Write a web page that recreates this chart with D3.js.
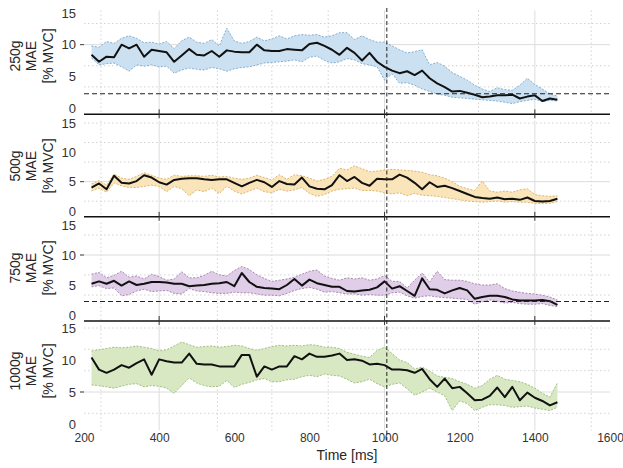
<!DOCTYPE html>
<html>
<head>
<meta charset="utf-8">
<script src="https://cdn.jsdelivr.net/npm/d3@7"></script>
<style>
  body { margin: 0; background: #fff; }
  text { font-family: "Liberation Sans", Arial, sans-serif; fill: #262626; }
</style>
</head>
<body>
<div id="chart"></div>
<script>

/* DATA */

var timeMs = [220,240,260,280,300,320,340,360,380,400,420,440,460,480,500,520,540,560,580,600,
  620,640,660,680,700,720,740,760,780,800,820,840,860,880,900,920,940,960,980,1000,
  1020,1040,1060,1080,1100,1120,1140,1160,1180,1200,1220,1240,1260,1280,1300,1320,1340,1360,1380,1400,
  1420,1440,1460];

var weights = ["250g", "500g", "750g", "1000g"];

var mean250 = [8.4,7.3,8.1,8.0,10.0,9.4,10.0,8.1,9.2,9.0, 8.8,7.3,8.3,9.3,8.4,8.3,9.0,8.1,9.1,8.9,
  8.8,8.8,10.0,9.1,9.0,9.0,9.3,9.2,9.1,10.1, 10.3,9.8,9.2,8.4,9.5,8.7,7.5,8.7,7.3,6.5,
  5.9,5.5,5.8,5.2,5.9,4.7,3.9,3.3,2.6,2.7, 2.4,2.1,1.7,1.8,2.0,2.0,2.1,1.5,1.8,2.0, 1.1,1.5,1.3];
var low250 = [7.9,6.8,7.0,7.1,6.5,5.8,6.8,6.6,6.8,6.5, 6.6,5.5,6.0,6.3,6.1,6.0,6.4,6.2,5.8,6.2,
  6.4,6.5,6.8,7.1,7.2,7.3,7.4,7.6,7.3,8.0, 8.2,7.5,7.1,7.3,7.8,7.6,7.0,6.8,6.5,4.4,
  5.4,3.9,4.0,3.6,3.0,2.6,2.2,2.0,1.7,1.6, 1.5,1.4,1.3,1.2,1.1,0.9,0.7,1.0,1.2,1.4, 1.0,1.2,1.1];
var high250 = [9.8,9.6,10.5,10.2,11.0,11.4,11.0,10.3,10.4,10.1, 10.5,9.4,10.6,11.2,10.4,10.2,10.8,9.8,12.6,10.6,
  10.2,10.5,11.2,10.6,10.9,11.4,10.9,11.4,11.6,11.5, 11.6,11.2,11.4,11.9,11.9,10.8,11.4,10.8,10.4,10.4,
  9.8,9.2,8.7,8.9,9.2,6.8,7.2,6.6,5.6,5.0, 4.4,3.6,3.0,2.6,3.2,2.9,2.8,3.6,4.7,3.7, 3.0,2.2,1.9];

var mean500 = [4.0,4.7,3.7,6.0,4.8,4.7,5.1,6.1,5.7,4.9, 4.5,5.3,5.5,5.6,5.6,5.4,5.3,5.4,5.4,4.8,
  4.2,4.8,5.3,4.9,4.1,5.1,4.6,4.5,5.7,4.2, 3.8,3.7,4.4,6.1,5.1,5.8,4.8,4.3,5.5,5.4,
  5.4,6.2,5.7,4.8,3.7,4.9,4.1,4.3,3.9,3.4, 2.9,2.4,2.2,2.1,2.3,2.0,2.1,1.9,2.3,1.7, 1.6,1.7,2.1];
var low500 = [3.4,3.9,3.2,4.8,4.3,4.0,4.0,4.2,4.4,4.2, 3.3,4.2,3.8,2.6,3.6,3.3,3.9,3.0,4.2,3.4,
  2.9,3.4,3.9,3.3,3.1,3.7,3.4,3.6,4.0,3.0, 2.5,2.8,3.4,3.7,3.8,3.9,3.5,3.5,3.4,3.1,
  2.9,3.1,2.6,3.0,2.7,2.6,2.5,2.3,2.1,1.9, 1.7,1.6,1.5,1.6,1.7,1.5,1.6,1.5,1.5,1.3, 1.3,1.3,1.6];
var high500 = [4.6,5.2,4.4,6.3,5.6,5.4,5.9,6.5,6.1,5.6, 5.4,6.1,5.9,6.0,6.0,5.9,6.1,5.8,5.9,5.6,
  5.4,5.6,6.1,5.7,5.3,6.2,5.4,6.2,6.0,5.6, 5.1,5.4,5.9,7.3,7.0,7.7,7.2,6.7,6.8,7.0,
  7.1,7.0,6.9,6.8,6.6,6.2,6.0,5.6,5.0,4.2, 3.8,3.5,5.1,3.4,3.2,3.4,3.2,3.6,3.8,2.8, 2.6,2.5,2.6];

var mean750 = [5.2,5.6,5.2,5.7,4.9,5.6,5.0,5.2,5.5,5.5, 5.4,5.2,5.2,4.8,4.9,5.0,5.2,5.3,5.5,4.8,
  7.0,5.5,4.7,4.5,4.4,4.3,5.0,6.0,4.9,5.9, 5.3,5.0,4.7,4.7,4.0,3.9,4.1,4.2,4.6,5.6,
  4.4,4.8,4.0,3.2,6.1,4.3,4.2,3.6,4.1,4.5, 4.1,2.7,3.0,3.2,3.2,3.0,2.6,2.4,2.4,2.4, 2.5,2.3,1.7];
var low750 = [4.7,4.9,4.4,4.5,3.2,3.4,4.0,4.3,3.9,4.0, 4.1,3.6,3.5,4.4,4.0,3.9,3.7,3.6,3.6,3.8,
  3.7,3.7,3.5,3.3,3.3,3.2,3.6,4.1,4.4,4.6, 4.3,3.8,3.9,3.7,3.5,3.5,3.3,3.4,3.3,3.3,
  3.7,3.8,3.2,2.8,3.1,3.2,3.0,2.9,2.8,2.7, 2.6,1.8,2.2,2.5,2.3,2.0,2.1,1.9,1.8,1.8, 1.9,1.6,1.4];
var high750 = [6.8,7.1,6.2,6.6,7.3,6.3,6.5,6.0,6.8,6.4, 5.8,6.0,7.2,6.2,6.2,6.6,7.3,6.7,6.5,7.4,
  8.1,7.6,6.7,6.1,5.6,5.8,6.0,6.3,6.8,7.3, 7.5,6.5,6.1,5.8,6.2,6.0,6.2,5.8,6.0,6.6,
  5.6,5.6,4.5,5.8,7.0,5.5,7.3,5.9,5.8,5.8, 5.6,5.2,5.0,5.0,5.2,4.4,4.0,3.8,3.6,3.5, 3.3,3.0,2.5];

var mean1000 = [10.4,8.5,8.0,8.5,9.2,8.8,9.5,10.1,7.7,10.1, 9.8,9.6,9.6,11.0,9.4,9.3,9.3,9.0,9.0,9.0,
  10.8,10.8,7.4,9.0,8.5,9.0,9.0,10.6,10.1,11.0, 10.5,10.5,10.7,11.0,10.0,10.1,9.9,9.3,9.4,9.2,
  8.5,8.5,8.4,8.0,8.6,7.0,5.8,7.1,5.6,5.8, 4.8,3.7,3.8,4.4,5.7,4.2,5.8,3.7,4.9,4.1, 3.6,2.9,3.4];
var low1000 = [6.1,6.0,5.8,5.6,5.9,6.2,6.3,5.8,6.0,5.9, 5.6,4.8,6.0,7.2,6.4,6.0,5.8,5.9,6.8,5.7,
  6.2,6.5,6.9,7.1,6.6,6.6,6.9,7.0,7.4,7.6, 7.4,7.8,7.6,7.5,7.0,6.4,6.6,7.0,6.3,5.8,
  6.2,6.4,5.5,4.5,5.0,5.6,5.0,4.4,2.1,3.6, 3.2,2.1,2.6,3.0,3.0,2.9,2.6,2.7,2.8,2.5, 2.3,2.1,2.6];
var high1000 = [11.4,11.6,11.8,12.0,11.9,12.0,12.2,12.0,11.8,11.4, 11.6,12.2,12.8,12.4,12.0,12.1,12.2,12.0,12.1,12.3,
  12.2,11.8,11.5,11.8,12.1,12.3,12.2,12.3,12.2,12.4, 12.3,12.0,12.0,11.8,11.2,10.9,10.6,10.4,11.5,12.0,
  11.0,10.0,9.6,8.6,8.9,8.3,7.5,7.3,7.1,6.6, 6.2,5.6,6.0,7.0,7.6,7.0,6.8,6.6,6.2,5.6, 4.8,4.2,6.4];

var yTicks = [0, 5, 10, 15];
var xTicks = [200, 400, 600, 800, 1000, 1200, 1400, 1600];
var majorY = [10, 5, 10, 5];
var dottedY = [[3.33, 6.67, 13.33], [1.67, 8.33, 11.67, 15], [3.33, 6.67, 13.33], [1.67, 8.33, 11.67, 15]];
var thresholds = [2.25, null, 2.25, null];
var solidX = [400, 1000, 1400];
var dottedX = [245, 555, 700, 850, 1250, 1550];
var axisTickX = [400, 1000, 1400];
var onsetMs = 1006;

var means = [mean250, mean500, mean750, mean1000];
var lows = [low250, low500, low750, low1000];
var highs = [high250, high500, high750, high1000];

var fills = ["#cbe1f1", "#fae5bb", "#e0cde7", "#d8e8c2"];
var edges = ["#6f9cc4", "#d2a653", "#94729f", "#8fb06a"];

/* CHART */

function drawChart(){

  var w = 623;
  var h = 468;
  var panelTop = [13, 123, 225, 328];    // pixel row of value 15
  var panelZero = [108, 211, 315, 424];  // pixel row of value 0

  var svg = d3.select("#chart").append("svg")
              .attr("width", w)
              .attr("height", h);

  var x = d3.scaleLinear().domain([200, 1600]).range([84, 610]);

  weights.forEach(function(wt, i){

    var y = d3.scaleLinear().domain([0, 15]).range([panelZero[i], panelTop[i]]);
    var g = svg.append("g");
    var yTop = y(15.4), yBot = y(-1);

    // grid
    g.selectAll(".gdy").data(dottedY[i]).enter().append("line")
     .attr("x1", 84).attr("x2", 610)
     .attr("y1", function(d){ return y(d); }).attr("y2", function(d){ return y(d); })
     .style("stroke", "#d2d2d2").style("stroke-dasharray", "1.5,2.5");
    g.selectAll(".gdx").data(dottedX).enter().append("line")
     .attr("x1", function(d){ return x(d); }).attr("x2", function(d){ return x(d); })
     .attr("y1", yTop).attr("y2", yBot)
     .style("stroke", "#d2d2d2").style("stroke-dasharray", "1.5,2.5");
    g.selectAll(".gsx").data(solidX).enter().append("line")
     .attr("x1", function(d){ return x(d); }).attr("x2", function(d){ return x(d); })
     .attr("y1", yTop).attr("y2", yBot)
     .style("stroke", "#dcdcdc");
    g.append("line")
     .attr("x1", 80).attr("x2", 610)
     .attr("y1", y(majorY[i])).attr("y2", y(majorY[i]))
     .style("stroke", "#dcdcdc");
    g.append("line")
     .attr("x1", 80).attr("x2", 84)
     .attr("y1", y(majorY[i])).attr("y2", y(majorY[i]))
     .style("stroke", "#444");

    var rows = timeMs.map(function(t, k){
      return {t: t, m: means[i][k], lo: lows[i][k], hi: highs[i][k]};
    });

    var area = d3.area()
                 .x(function(d){ return x(d.t); })
                 .y0(function(d){ return y(d.lo); })
                 .y1(function(d){ return y(d.hi); });

    g.append("path").datum(rows)
     .attr("d", area)
     .style("fill", fills[i]);

    ["lo", "hi"].forEach(function(key){
      g.append("path").datum(rows)
       .attr("d", d3.line().x(function(d){ return x(d.t); }).y(function(d){ return y(d[key]); }))
       .style("fill", "none")
       .style("stroke", edges[i])
       .style("stroke-width", 0.8)
       .style("stroke-dasharray", "2,1.5");
    });

    g.append("path").datum(rows)
     .attr("d", d3.line().x(function(d){ return x(d.t); }).y(function(d){ return y(d.m); }))
     .style("fill", "none")
     .style("stroke", "#111")
     .style("stroke-width", 2)
     .style("stroke-linejoin", "round");

    if (thresholds[i] !== null) {
      g.append("line")
       .attr("x1", 84).attr("x2", 610)
       .attr("y1", y(thresholds[i])).attr("y2", y(thresholds[i]))
       .style("stroke", "#222")
       .style("stroke-width", 1.2)
       .style("stroke-dasharray", "5,3");
    }

    // y tick labels
    var yAxis = d3.axisLeft(y).tickValues(yTicks).tickSize(0).tickPadding(4);
    var ya = g.append("g").attr("transform", "translate(80,0)").call(yAxis);
    ya.select(".domain").remove();
    ya.selectAll("text").style("font-size", "13px").style("fill", "#333");

    var lab = g.append("g")
               .attr("transform", "translate(0," + (panelTop[i] + 43) + ") rotate(-90)")
               .style("font-size", "14px")
               .attr("text-anchor", "middle");
    lab.append("text").attr("y", 20).text(wt);
    lab.append("text").attr("y", 36).text("MAE");
    lab.append("text").attr("y", 53).text("[% MVC]");

    if (i < 3) {
      g.append("line")
       .attr("x1", 84).attr("x2", 610)
       .attr("y1", yBot).attr("y2", yBot)
       .style("stroke", "#111").style("stroke-width", 1.5);
      g.selectAll(".tk").data(axisTickX).enter().append("line")
       .attr("x1", function(d){ return x(d); }).attr("x2", function(d){ return x(d); })
       .attr("y1", yBot - 5).attr("y2", yBot + 4)
       .style("stroke", "#333");
    } else {
      var xAxis = d3.axisBottom(x).tickValues(xTicks).tickSize(0).tickPadding(3)
                    .tickFormat(d3.format("d"));
      var xa = g.append("g").attr("transform", "translate(0," + yBot + ")").call(xAxis);
      xa.select(".domain").remove();
      xa.selectAll("text").style("font-size", "12px").style("fill", "#333");
      g.append("text")
       .attr("x", 347).attr("y", yBot + 30)
       .attr("text-anchor", "middle")
       .style("font-size", "14px")
       .text("Time [ms]");
    }
  });

  svg.append("line")
     .attr("x1", x(onsetMs)).attr("x2", x(onsetMs))
     .attr("y1", 8).attr("y2", 440)
     .style("stroke", "#222")
     .style("stroke-width", 1)
     .style("stroke-dasharray", "4,2.5");

};

drawChart();

</script>
</body>
</html>
